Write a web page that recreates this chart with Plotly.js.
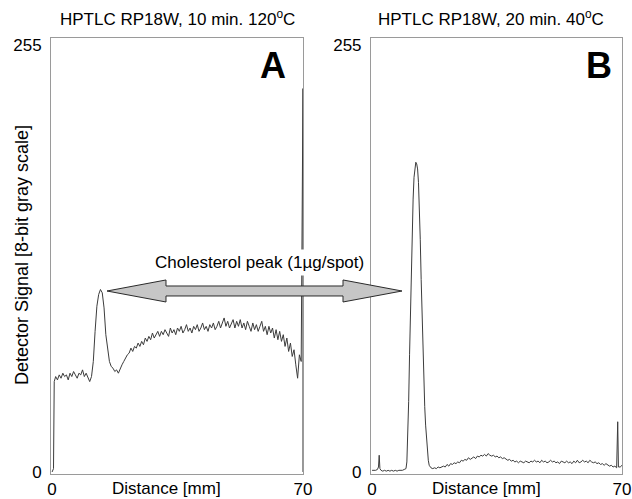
<!DOCTYPE html>
<html><head><meta charset="utf-8">
<script src="https://cdn.plot.ly/plotly-3.0.1.min.js"></script>
<style>html,body{margin:0;padding:0;background:#fff}#chart{width:632px;height:499px}</style>
</head><body><div id="chart"></div>
<script>
// Panel A: HPTLC RP18W, 10 min. 120°C  (distance mm, 8-bit gray signal)
const xA = [0, 0.4, 0.6, 1.0, 1.5, 2.0, 2.5, 3.0, 3.5, 4.0, 4.5, 5.0, 5.5, 6.0, 6.5, 7.0, 7.5, 8.0, 8.5, 9.0, 9.5, 10.0,
  10.5, 11.0, 11.5, 12.0, 12.5, 13.0, 13.5, 14.0, 14.5, 15.0, 15.5, 16.0, 16.5, 17.0, 17.5, 18.0, 18.5, 19.0, 19.5, 20.0,
  20.5, 21.0, 21.5, 22.0, 22.5, 23.0, 23.5, 24.0, 24.5, 25.0, 25.5, 26.0, 26.5, 27.0, 27.5, 28.0, 28.5, 29.0, 29.5, 30.0,
  30.5, 31.0, 31.5, 32.0, 32.5, 33.0, 33.5, 34.0, 34.5, 35.0, 35.5, 36.0, 36.5, 37.0, 37.5, 38.0, 38.5, 39.0, 39.5, 40.0,
  40.5, 41.0, 41.5, 42.0, 42.5, 43.0, 43.5, 44.0, 44.5, 45.0, 45.5, 46.0, 46.5, 47.0, 47.5, 48.0, 48.5, 49.0, 49.5, 50.0,
  50.5, 51.0, 51.5, 52.0, 52.5, 53.0, 53.5, 54.0, 54.5, 55.0, 55.5, 56.0, 56.5, 57.0, 57.5, 58.0, 58.5, 59.0, 59.5, 60.0,
  60.5, 61.0, 61.5, 62.0, 62.5, 63.0, 63.5, 64.0, 64.5, 65.0, 65.5, 66.0, 66.5, 67.0, 67.5, 68.0, 68.5, 69.0, 69.5, 70.0, 70.0];
const yA = [0, 2, 54, 57, 55, 58, 56, 59, 57, 58, 55, 59, 57, 60, 58, 56, 59, 58, 61, 57, 59, 56,
  54, 57, 66, 84, 99, 106, 109, 107, 98, 82, 72, 66, 63, 62, 60, 61, 59, 62, 64, 66,
  68, 70, 71, 74, 72, 75, 74, 77, 75, 78, 76, 80, 78, 81, 79, 83, 80, 82, 84, 81,
  84, 82, 85, 83, 81, 86, 83, 85, 82, 86, 84, 87, 83, 85, 88, 84, 86, 83, 87, 85,
  88, 84, 86, 89, 85, 87, 84, 88, 86, 89, 85, 87, 90, 86, 89, 92, 87, 90, 86, 89,
  91, 86, 90, 87, 91, 86, 89, 85, 90, 87, 84, 89, 85, 88, 84, 87, 90, 84, 87, 82,
  87, 83, 86, 80, 85, 79, 84, 78, 82, 75, 80, 72, 77, 69, 73, 64, 56, 70, 66, 229, 0];

// Panel B: HPTLC RP18W, 20 min. 40°C
const xB = [0, 0.5, 1.0, 1.5, 1.8, 2.0, 2.2, 2.5, 3.0, 3.5, 4.0, 4.5, 5.0, 5.5, 6.0, 6.5, 7.0, 7.5, 8.0, 8.5, 9.0, 9.5,
  9.75, 10.0, 10.25, 10.5, 10.75, 11.0, 11.25, 11.5, 11.75, 12.0, 12.25, 12.5, 12.75, 13.0, 13.25, 13.5, 13.75, 14.0,
  14.25, 14.5, 14.75, 15.0, 15.25, 15.5, 15.75, 16.0,
  16.5, 17.0, 17.5, 18.0, 18.5, 19.0, 19.5, 20.0, 20.5, 21.0, 21.5, 22.0, 22.5, 23.0, 23.5, 24.0, 24.5, 25.0, 25.5, 26.0,
  26.5, 27.0, 27.5, 28.0, 28.5, 29.0, 29.5, 30.0, 30.5, 31.0, 31.5, 32.0, 32.5, 33.0, 33.5, 34.0, 34.5, 35.0, 35.5, 36.0,
  36.5, 37.0, 37.5, 38.0, 38.5, 39.0, 39.5, 40.0, 40.5, 41.0, 41.5, 42.0, 42.5, 43.0, 43.5, 44.0, 44.5, 45.0, 45.5, 46.0,
  46.5, 47.0, 47.5, 48.0, 48.5, 49.0, 49.5, 50.0, 50.5, 51.0, 51.5, 52.0, 52.5, 53.0, 53.5, 54.0, 54.5, 55.0, 55.5, 56.0,
  56.5, 57.0, 57.5, 58.0, 58.5, 59.0, 59.5, 60.0, 60.5, 61.0, 61.5, 62.0, 62.5, 63.0, 63.5, 64.0, 64.5, 65.0, 65.5, 66.0,
  66.5, 67.0, 67.5, 68.0, 68.5, 68.8, 69.0, 69.5, 70.0];
const yB = [1, 1, 1, 1.5, 3, 10, 2, 1, 0.5, 1, 0.5, 1, 0.5, 1, 0.5, 1, 0.5, 1, 1, 1, 1.5, 2,
  6, 19, 42, 70, 96, 120, 145, 163, 176, 183, 185, 184, 181, 173, 158, 139, 115, 93,
  72, 55, 39, 28, 20, 13, 7, 4,
  2.5, 2, 2.5, 2, 3, 2.5, 3, 3.5, 3, 4.5, 3.5, 5, 4.5, 5.5, 5, 6, 5.5, 7, 6.5, 7.5,
  7, 8.5, 7.5, 8.5, 9, 8, 9.5, 9, 10, 9.5, 10.5, 9.5, 11, 10, 9.5, 10, 9, 9.5, 8.5, 9,
  8, 8.5, 7.5, 7, 7.5, 6.5, 7, 6, 6.5, 5.5, 6.5, 6, 5.5, 6.5, 6, 5.5, 6.5, 6, 7, 6,
  6.5, 5.5, 7, 6, 6.5, 5.5, 6, 7, 6, 6.5, 5.5, 6, 5, 6.5, 6, 5.5, 6.5, 5.5, 6, 5,
  6.5, 5.5, 7, 5.5, 6, 7, 6, 6.5, 5.5, 7, 6, 5.5, 6, 5, 5.5, 4.5, 5, 4, 5, 4,
  3.5, 4, 3, 3.5, 2.5, 30, 3, 3, 4];

const xTickVals = [0, 70];
const xTickText = ['0', '70'];
const yTickVals = [0, 255];
const yTickText = ['0', '255'];
const panelTitles = ['HPTLC RP18W, 10 min. 120<sup>o</sup>C', 'HPTLC RP18W, 20 min. 40<sup>o</sup>C'];
const panelLetters = ['A', 'B'];
const xTitle = 'Distance [mm]';
const yTitle = 'Detector Signal [8-bit gray scale]';
const arrowLabel = 'Cholesterol peak (1\u00b5g/spot)';

const FONT = 'Arial, "Liberation Sans", sans-serif';
const FRAME = '#9a9a9a';
const LINE = '#3c3c3c';

const traces = [
  {x: xA, y: yA, type: 'scatter', mode: 'lines', line: {color: LINE, width: 1}, xaxis: 'x', yaxis: 'y', hoverinfo: 'skip'},
  {x: xB, y: yB, type: 'scatter', mode: 'lines', line: {color: LINE, width: 1}, xaxis: 'x2', yaxis: 'y2', hoverinfo: 'skip'}
];

function xax(domain, anchor) {
  return {domain: domain, anchor: anchor, range: [-0.3, 70], showline: true, mirror: true, linecolor: FRAME, linewidth: 1,
    showgrid: false, zeroline: false, ticks: '', tickvals: xTickVals, ticktext: xTickText,
    tickfont: {family: FONT, size: 17, color: '#000'}, ticklabelstandoff: 0, fixedrange: true};
}
function yax(anchor) {
  return {domain: [0, 1], anchor: anchor, range: [-1.2, 259.2], showline: true, mirror: true, linecolor: FRAME, linewidth: 1,
    showgrid: false, zeroline: false, ticks: '', tickvals: yTickVals, ticktext: yTickText,
    tickfont: {family: FONT, size: 17, color: '#000'}, ticklabelstandoff: 5, fixedrange: true};
}

const arrowPath = 'M 0.0981 0.4197 L 0.2014 0.4450 L 0.2014 0.4312 L 0.5114 0.4312 L 0.5114 0.4450 L 0.6147 0.4197 ' +
  'L 0.5114 0.3945 L 0.5114 0.4083 L 0.2014 0.4083 L 0.2014 0.3945 Z';

const layout = {
  width: 632, height: 499,
  margin: {l: 51, r: 10, t: 38, b: 25},
  paper_bgcolor: '#fff', plot_bgcolor: '#fff',
  showlegend: false,
  font: {family: FONT, size: 17, color: '#000'},
  xaxis: xax([0, 0.4413], 'y'),
  yaxis: yax('x'),
  xaxis2: xax([0.5604, 1], 'y2'),
  yaxis2: yax('x2'),
  shapes: [
    {type: 'path', xref: 'paper', yref: 'paper', path: arrowPath, fillcolor: '#c6c6c6', line: {color: '#2a2a2a', width: 1}, layer: 'above'}
  ],
  annotations: [
    {text: panelTitles[0], xref: 'paper', yref: 'paper', x: 0.2224, y: 1.0459, xanchor: 'center', yanchor: 'middle', showarrow: false, font: {family: FONT, size: 17}},
    {text: panelTitles[1], xref: 'paper', yref: 'paper', x: 0.7706, y: 1.0459, xanchor: 'center', yanchor: 'middle', showarrow: false, font: {family: FONT, size: 17}},
    {text: panelLetters[0], xref: 'paper', yref: 'paper', x: 0.3888, y: 0.9358, xanchor: 'center', yanchor: 'middle', showarrow: false, font: {family: FONT, size: 36, weight: 'bold'}},
    {text: panelLetters[1], xref: 'paper', yref: 'paper', x: 0.9597, y: 0.9358, xanchor: 'center', yanchor: 'middle', showarrow: false, font: {family: FONT, size: 36, weight: 'bold'}},
    {text: xTitle, xref: 'x', yref: 'paper', x: 32, y: -0.0344, xanchor: 'center', yanchor: 'middle', showarrow: false, font: {family: FONT, size: 17}},
    {text: xTitle, xref: 'x2', yref: 'paper', x: 32, y: -0.0344, xanchor: 'center', yanchor: 'middle', showarrow: false, font: {family: FONT, size: 17}},
    {text: yTitle, xref: 'paper', yref: 'paper', x: -0.0508, y: 0.502, xanchor: 'center', yanchor: 'middle', textangle: -90, showarrow: false, font: {family: FONT, size: 18}},
    {text: arrowLabel, xref: 'paper', yref: 'paper', x: 0.366, y: 0.484, xanchor: 'center', yanchor: 'middle', showarrow: false, bgcolor: '#fff', borderpad: 3, font: {family: FONT, size: 17}}
  ]
};

Plotly.newPlot('chart', traces, layout, {displayModeBar: false, staticPlot: true});
</script></body></html>
